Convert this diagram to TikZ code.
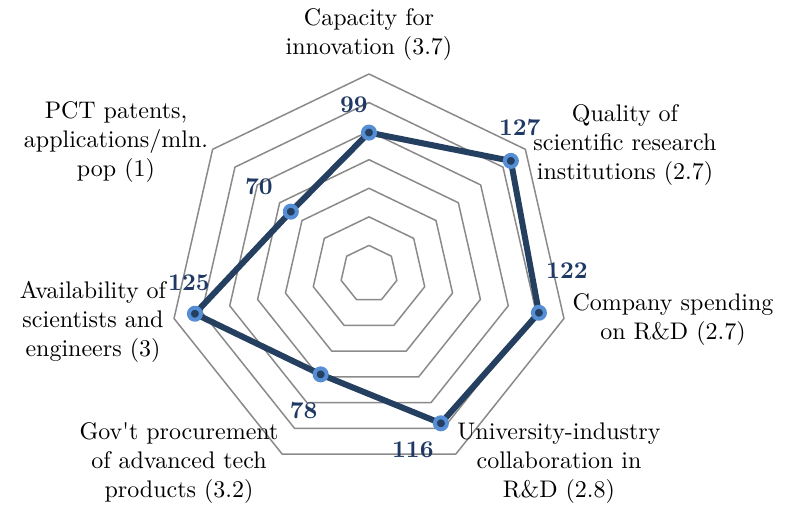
\documentclass[tikz,border=0pt]{standalone}
\usepackage{fontspec}
\newfontfamily\chartfont{lmroman10-regular.otf}[BoldFont=lmroman10-bold.otf]
\definecolor{series}{HTML}{243F60}
\definecolor{marker}{HTML}{558ED5}
\definecolor{numlab}{HTML}{1F3864}
\definecolor{gridgray}{HTML}{8A8A8A}
\begin{document}
\begin{tikzpicture}[x=0.5pt, y=0.5pt, font=\chartfont\fontsize{12}{14.5}\selectfont, line join=round, line cap=round,
  cat/.style={align=center, inner sep=0pt},
  val/.style={font=\chartfont\fontsize{12}{12}\selectfont\bfseries, text=numlab, inner sep=0pt},
  dot/.style={circle, draw=marker, fill=series, line width=2pt, inner sep=0pt, minimum size=6pt}]
\useasboundingbox (-369,-235) rectangle (419,274);
% grid
\foreach \r in {1,...,7}
  \draw [gridgray, line width=0.75pt] (90:{\r*28.571})
    \foreach \k in {1,...,6} { -- ({90-\k*360/7}:{\r*28.571}) } -- cycle;
% data (1 step = 20)
\coordinate (cap) at (90:141.43);
\coordinate (qual) at ({90-360/7}:181.43);
\coordinate (comp) at ({90-2*360/7}:174.29);
\coordinate (univ) at ({90-3*360/7}:165.71);
\coordinate (gov) at ({90-4*360/7}:111.43);
\coordinate (avail) at ({90-5*360/7}:178.57);
\coordinate (pct) at ({90-6*360/7}:100);
\draw [series, line width=3pt] (cap)--(qual)--(comp)--(univ)--(gov)--(avail)--(pct)--cycle;
\foreach \p in {cap,qual,comp,univ,gov,avail,pct}
  \node [dot] (m-\p) at (\p) {};
% values
\node [val] (v-cap) at ([shift={(-15,28)}]cap) {99};
\node [val] (v-qual) at ([shift={(9,33)}]qual) {127};
\node [val] (v-comp) at ([shift={(28,42)}]comp) {122};
\node [val] (v-univ) at ([shift={(-28,-26)}]univ) {116};
\node [val] (v-gov) at ([shift={(-17,-36)}]gov) {78};
\node [val] (v-avail) at ([shift={(-6,31)}]avail) {125};
\node [val] (v-pct) at ([shift={(-32,25)}]pct) {70};
% categories
\node [cat] (l-cap) at (0,239) {Capacity for\\innovation (3.7)};
\node [cat] (l-qual) at (256,129) {Quality of\\scientific research\\institutions (2.7)};
\node [cat] (l-comp) at (304,-46) {Company spending\\on R\&D (2.7)};
\node [cat] (l-univ) at (190,-189) {University-industry\\collaboration in\\R\&D (2.8)};
\node [cat] (l-gov) at (-190,-189) {Gov't procurement\\of advanced tech\\products (3.2)};
\node [cat] (l-avail) at (-276,-48) {Availability of\\scientists and\\engineers (3)};
\node [cat] (l-pct) at (-253,132) {PCT patents,\\applications/mln.\\pop (1)};
\end{tikzpicture}
\end{document}
